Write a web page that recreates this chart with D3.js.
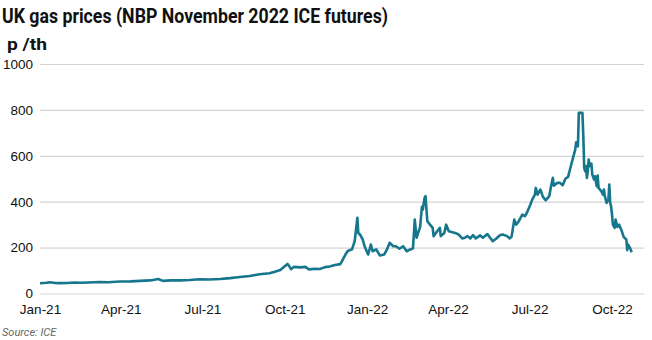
<!DOCTYPE html>
<html>
<head>
<meta charset="utf-8">
<script src="https://cdn.jsdelivr.net/npm/d3@7"></script>
<style>
  body { margin: 0; background: #fff; }
  svg { display: block; font-family: Roboto, "Liberation Sans", sans-serif; }
  .tick text { fill: #111; font-size: 13.5px; }
</style>
</head>
<body>
<script>
var w = 652,
  h = 340;

// NBP November 2022 contract, p/therm
var tradeDates = [
  '2021-01-01', '2021-01-08', '2021-01-12', '2021-01-18', '2021-01-23', '2021-02-01', '2021-02-08', '2021-02-15',
  '2021-02-24', '2021-03-09', '2021-03-18', '2021-03-31', '2021-04-12', '2021-04-23', '2021-05-04', '2021-05-13',
  '2021-05-18', '2021-05-27', '2021-06-06', '2021-06-17', '2021-06-28', '2021-07-09', '2021-07-21', '2021-08-01',
  '2021-08-12', '2021-08-23', '2021-09-03', '2021-09-14', '2021-09-20', '2021-09-26', '2021-09-29', '2021-10-04',
  '2021-10-06', '2021-10-08', '2021-10-11', '2021-10-18', '2021-10-24', '2021-10-28', '2021-11-04', '2021-11-09',
  '2021-11-15', '2021-11-20', '2021-11-26', '2021-12-02', '2021-12-05', '2021-12-08', '2021-12-10', '2021-12-13',
  '2021-12-15', '2021-12-18', '2021-12-21', '2021-12-22', '2021-12-24', '2021-12-27', '2021-12-29', '2022-01-02',
  '2022-01-05', '2022-01-07', '2022-01-11', '2022-01-15', '2022-01-20', '2022-01-23', '2022-01-26', '2022-01-30',
  '2022-02-02', '2022-02-06', '2022-02-10', '2022-02-14', '2022-02-18', '2022-02-21', '2022-02-23', '2022-02-25',
  '2022-03-01', '2022-03-03', '2022-03-04', '2022-03-06', '2022-03-07', '2022-03-09', '2022-03-12', '2022-03-15',
  '2022-03-16', '2022-03-20', '2022-03-23', '2022-03-24', '2022-03-28', '2022-03-30', '2022-04-02', '2022-04-09',
  '2022-04-13', '2022-04-17', '2022-04-20', '2022-04-23', '2022-04-26', '2022-04-29', '2022-05-02', '2022-05-07',
  '2022-05-10', '2022-05-15', '2022-05-18', '2022-05-21', '2022-05-25', '2022-05-29', '2022-06-01', '2022-06-06',
  '2022-06-09', '2022-06-11', '2022-06-14', '2022-06-16', '2022-06-19', '2022-06-23', '2022-06-26', '2022-06-28',
  '2022-07-02', '2022-07-04', '2022-07-07', '2022-07-08', '2022-07-10', '2022-07-13', '2022-07-16', '2022-07-19',
  '2022-07-23', '2022-07-25', '2022-07-27', '2022-07-28', '2022-08-01', '2022-08-04', '2022-08-07', '2022-08-10',
  '2022-08-13', '2022-08-15', '2022-08-18', '2022-08-21', '2022-08-22', '2022-08-24', '2022-08-25', '2022-08-29',
  '2022-08-30', '2022-08-31', '2022-09-01', '2022-09-02', '2022-09-03', '2022-09-04', '2022-09-05', '2022-09-06',
  '2022-09-08', '2022-09-09', '2022-09-11', '2022-09-12', '2022-09-14', '2022-09-15', '2022-09-16', '2022-09-19',
  '2022-09-21', '2022-09-22', '2022-09-23', '2022-09-25', '2022-09-27', '2022-09-28', '2022-09-29', '2022-09-30',
  '2022-10-01', '2022-10-02', '2022-10-04', '2022-10-05', '2022-10-07', '2022-10-09', '2022-10-10', '2022-10-12',
  '2022-10-14', '2022-10-17', '2022-10-18', '2022-10-19', '2022-10-21', '2022-10-23'
];

var prices = [
  45, 47, 49, 46, 45, 46, 48, 47,
  48, 50, 49, 52, 53, 55, 57, 63,
  55, 57, 57, 59, 62, 61, 63, 67,
  72, 76, 84, 88, 95, 102, 112, 129,
  119, 106, 116, 114, 116, 105, 108, 107,
  115, 118, 124, 128, 150, 172, 184, 190,
  192, 228, 330, 264, 257, 235, 206, 170,
  213, 184, 192, 166, 170, 192, 221, 206,
  206, 195, 206, 184, 192, 196, 322, 243,
  290, 378, 366, 417, 424, 315, 300, 286,
  250, 271, 286, 250, 264, 300, 271, 264,
  257, 240, 243, 250, 240, 254, 240, 253,
  243, 259, 243, 228, 240, 254, 257, 250,
  240, 248, 322, 300, 315, 344, 337, 351,
  388, 409, 431, 460, 431, 453, 421, 406,
  424, 467, 504, 470, 482, 482, 472, 500,
  508, 538, 584, 627, 659, 641, 787, 787,
  686, 547, 533, 555, 504, 533, 584, 555,
  566, 518, 497, 511, 467, 514, 460, 446,
  431, 453, 424, 395, 409, 475, 395, 380,
  344, 300, 286, 322, 290, 300, 290, 271,
  247, 235, 189, 213, 199, 180
];

var yTicks = [0, 200, 400, 600, 800, 1000];
var xTicks = ['2021-01-01', '2021-04-01', '2021-07-01', '2021-10-01', '2022-01-01', '2022-04-01', '2022-07-01', '2022-10-01'];

var parse = d3.timeParse('%Y-%m-%d');
var data = tradeDates.map(function (d, i) { return { date: parse(d), value: prices[i] }; });

var svg = d3.select('body').append('svg')
  .attr('width', w)
  .attr('height', h);

var x = d3.scaleTime()
  .domain([parse('2021-01-01'), parse('2022-10-01')])
  .range([40, 612]);

var y = d3.scaleLinear()
  .domain([0, 1000])
  .range([293.5, 64]);

// horizontal gridlines + labels
var yAxis = svg.append('g')
  .attr('transform', 'translate(40,0)')
  .call(d3.axisLeft(y).tickValues(yTicks).tickSize(-604).tickPadding(7).tickFormat(d3.format('d')));
yAxis.select('.domain').remove();
yAxis.selectAll('.tick line').attr('stroke', '#d4d4d4').attr('stroke-width', 1.2);

var xAxis = svg.append('g')
  .attr('transform', 'translate(0,' + y(0) + ')')
  .call(d3.axisBottom(x).tickValues(xTicks.map(parse)).tickSize(0).tickPadding(11).tickFormat(d3.timeFormat('%b-%y')));
xAxis.select('.domain').remove();

var line = d3.line()
  .x(function (d) { return x(d.date); })
  .y(function (d) { return y(d.value); });

svg.append('path')
  .datum(data)
  .attr('fill', 'none')
  .attr('stroke', '#15768c')
  .attr('stroke-width', 2.6)
  .attr('stroke-linejoin', 'round')
  .attr('d', line);

// narrow headline: squeeze glyphs to the column width
svg.append('text')
  .attr('x', 2)
  .attr('y', 23)
  .attr('font-size', 20)
  .attr('font-weight', 'bold')
  .attr('textLength', 386)
  .attr('lengthAdjust', 'spacingAndGlyphs')
  .attr('fill', '#111')
  .text('UK gas prices (NBP November 2022 ICE futures)');

svg.append('text')
  .attr('x', 7)
  .attr('y', 50)
  .attr('font-size', 17)
  .attr('font-weight', 'bold')
  .attr('textLength', 40)
  .attr('lengthAdjust', 'spacingAndGlyphs')
  .attr('fill', '#111')
  .text('p /th');

svg.append('text')
  .attr('x', 2)
  .attr('y', 336)
  .attr('font-size', 11)
  .attr('font-style', 'italic')
  .attr('fill', '#666')
  .text('Source: ICE');
</script>
</body>
</html>
